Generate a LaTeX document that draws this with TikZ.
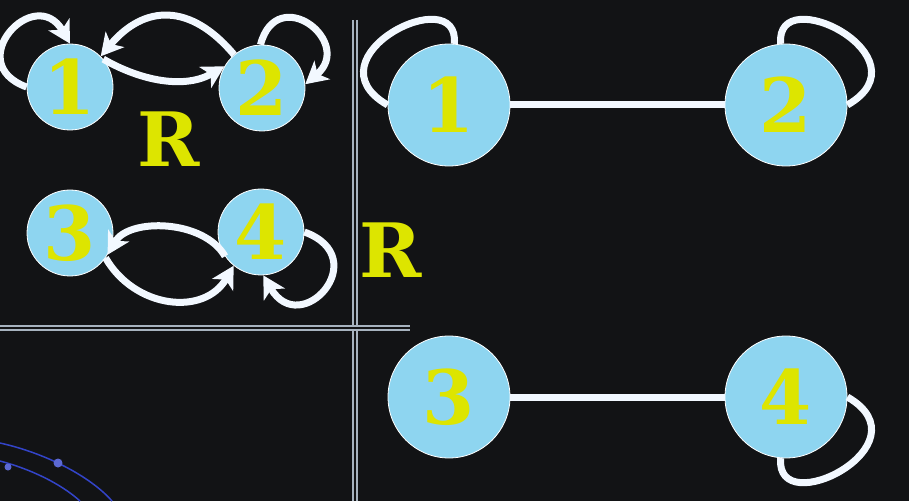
\documentclass[tikz,border=0pt]{standalone}
\usepackage{fontspec}
\setmainfont{DejaVu Serif}
\usetikzlibrary{arrows.meta}

\definecolor{board}{HTML}{121315}
\definecolor{disc}{HTML}{8ED5F0}
\definecolor{digit}{HTML}{DDE500}
\definecolor{rulegray}{HTML}{A7B3BF}
\definecolor{chalk}{HTML}{F2F8FF}
\definecolor{orbit}{HTML}{3344C8}

\begin{document}
\begin{tikzpicture}[x=1pt,y=1pt,>={Stealth[length=22pt,width=24pt,inset=6pt]}]

      \fill[board] (0,0) rectangle (909,501);
      \useasboundingbox (0,0) rectangle (909,501);

      % corner swirl
      \draw[orbit, line width=1.5pt] (0,58) .. controls (45,48) and (90,25) .. (112,0);
      \draw[orbit, line width=1.5pt] (0,40) .. controls (30,32) and (60,18) .. (80,0);
      \fill[orbit!80!white] (58,38) circle (4.5pt);
      \fill[orbit!80!white] (8,34) circle (3.5pt);

      % dividers
      \draw[rulegray, line width=1.6pt, double=board, double distance=2pt] (355,481) -- (355,0);
      \draw[rulegray, line width=1.6pt, double=board, double distance=2pt] (0,173) -- (410,173);

      \begin{scope}[every node/.style={circle, draw=white, line width=0.8pt, fill=disc, text=digit,
          inner sep=0pt, font=\bfseries\fontsize{75}{75}\selectfont}]
        \node[minimum size=86pt]  (1) at (70,414)  {1};
        \node[minimum size=86pt]  (2) at (262,413) {2};
        \node[minimum size=86pt]  (3) at (70,268)  {3};
        \node[minimum size=86pt]  (4) at (261,269) {4};
        \node[minimum size=122pt] (5) at (449,396) {1};
        \node[minimum size=122pt] (6) at (786,396) {2};
        \node[minimum size=122pt] (7) at (449,104) {3};
        \node[minimum size=122pt] (8) at (786,104) {4};
      \end{scope}

      \begin{scope}[every node/.style={text=digit, font=\bfseries\fontsize{75}{75}\selectfont}]
        \node (r1) at (169,362) {R};
        \node (r2) at (391,251) {R};
      \end{scope}

      \begin{scope}[every edge/.style={draw=chalk, line width=7pt}]
        \path (1.180) edge[->, out=160, in=120, distance=70] (1.90);
        \path (2.130) edge[->, out=130, in=50, looseness=1.3] (1.45);
        \path (1.40)  edge[->, out=-30, in=-150, looseness=0.95] (2.150);
        \path (2.92)  edge[->, out=75, in=40, distance=65] (2.5);
        \path (4.214) edge[->, out=120, in=60, looseness=0.93] (3.-30);
        \path (3.-35) edge[->, out=-60, in=-120, looseness=1.17] (4.231);
        \path (4.0)   edge[->, out=-20, in=-60, distance=75] (4.-87);
        \path (5)     edge (6);
        \path (7)     edge (8);
        \path (5.180) edge[out=150, in=85, out distance=95, in distance=65] (5.85);
        \path (6.0)   edge[out=30, in=95, out distance=95, in distance=65] (6.95);
        \path (8.0)   edge[out=-30, in=-95, out distance=95, in distance=65] (8.-95);
      \end{scope}

    \end{tikzpicture}
\end{document}
